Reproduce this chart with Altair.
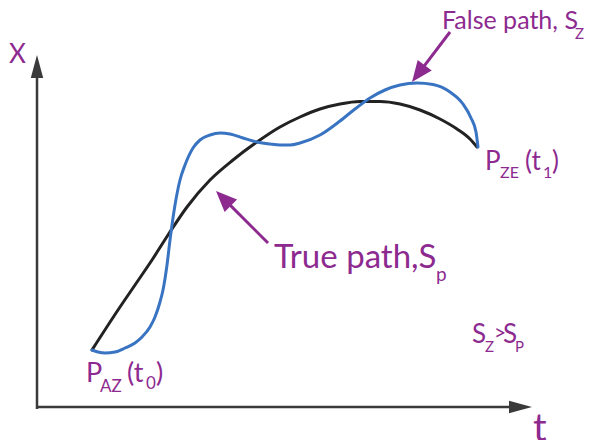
import altair as alt
import pandas as pd
import numpy as np

# ---- data (diagram coordinates: t to the right, x upward on a reversed pixel-like scale) ----
true_t = [92, 118, 135, 152, 168, 187, 210, 233, 257, 280, 300, 320, 340, 360, 380, 400, 420, 440, 457, 470, 477]
true_x = [350, 310, 285, 260, 235, 207, 180, 160, 142, 127, 117, 109, 104, 101.5, 101.5, 104, 110, 119, 129, 139, 147]

false_t = [92, 98, 105, 115, 125, 135, 142, 150, 155, 160, 163, 167, 170, 175, 180, 185, 193, 200, 210, 220, 230,
           243, 257, 270, 280, 290, 300, 320, 340, 355, 370, 385, 400, 417, 433, 450, 463, 471, 476, 478]
false_x = [350, 352, 353, 352, 348, 343, 337, 327, 317, 302, 290, 265, 240, 205, 180, 165, 148, 140, 135, 133, 134,
           138, 142, 144, 145, 145, 143, 135, 121, 109, 98, 90, 85, 83, 84.5, 92, 104, 118, 132, 147]

label_text = ["X", "False path, S", "Z", "True path,S", "p",
              "P", "ZE", "(t", "1", ")",
              "P", "AZ", "(t", "0", ")",
              "S", "Z", ">", "S", "P", "t"]

# annotation placement
label_t = [9, 442, 575, 274, 436,
           485, 500, 525, 543, 552,
           86, 100, 127, 146, 156,
           472, 485, 494, 503, 515, 533]
label_x = [63, 29, 39, 268, 281,
           170, 178, 170, 178, 170,
           382, 392, 382, 389, 382,
           343, 352, 340, 343, 352, 441]
label_size = [26, 25, 15, 33, 19,
              26, 16, 26, 16, 26,
              27, 17, 27, 17, 27,
              26, 15, 21, 26, 15, 38]

PURPLE = "#8D2A90"
BLUE = "#3874C2"
BLACK = "#222222"
AXIS = "#3a3a3a"

xs = alt.Scale(domain=[8, 585], nice=False, zero=False)
ys = alt.Scale(domain=[440, 8], nice=False, zero=False)

true_df = pd.DataFrame({"t": true_t, "x": true_x, "i": range(len(true_t))})
false_df = pd.DataFrame({"t": false_t, "x": false_x, "i": range(len(false_t))})
lab_df = pd.DataFrame({"t": label_t, "x": label_x, "s": label_size, "txt": label_text})

def line_layer(df, color, width):
    return alt.Chart(df).mark_line(color=color, strokeWidth=width, interpolate="monotone",
                                   strokeCap="round").encode(
        x=alt.X("t:Q", scale=xs, axis=None),
        y=alt.Y("x:Q", scale=ys, axis=None),
        order="i:Q")

# axes
axis_y = alt.Chart(pd.DataFrame({"t": [37], "x": [409], "t2": [37], "x2": [70]})).mark_rule(
    color=AXIS, strokeWidth=2.5).encode(
    x=alt.X("t:Q", scale=xs, axis=None), y=alt.Y("x:Q", scale=ys, axis=None), x2="t2:Q", y2="x2:Q")
axis_x = alt.Chart(pd.DataFrame({"t": [36], "x": [407], "t2": [517], "x2": [407]})).mark_rule(
    color=AXIS, strokeWidth=2.5).encode(
    x=alt.X("t:Q", scale=xs, axis=None), y=alt.Y("x:Q", scale=ys, axis=None), x2="t2:Q", y2="x2:Q")

AXIS_HEAD = "M0,0 L0.27,1 L-0.27,1 Z"
axis_heads = alt.Chart(pd.DataFrame({"t": [37, 532], "x": [55, 407], "a": [0, 90]})).mark_point(
    shape=AXIS_HEAD, filled=True, opacity=1, color=AXIS, size=(2 * 23) ** 2, strokeWidth=0).encode(
    x=alt.X("t:Q", scale=xs, axis=None), y=alt.Y("x:Q", scale=ys, axis=None),
    angle=alt.Angle("a:Q", scale=None))

# purple pointer arrows
starts = np.array([[450.0, 32.0], [268.0, 243.0]])
tips = np.array([[412.0, 82.0], [216.0, 191.0]])
d = tips - starts
n = d / np.linalg.norm(d, axis=1, keepdims=True)
ends = tips - n * 14
angles = (np.degrees(np.arctan2(n[:, 0], -n[:, 1])) + 360) % 360
ptr_df = pd.DataFrame({"t": starts[:, 0], "x": starts[:, 1], "t2": ends[:, 0], "x2": ends[:, 1]})
pointers = alt.Chart(ptr_df).mark_rule(color=PURPLE, strokeWidth=3).encode(
    x=alt.X("t:Q", scale=xs, axis=None), y=alt.Y("x:Q", scale=ys, axis=None), x2="t2:Q", y2="x2:Q")
PTR_HEAD = "M0,0 L0.42,1 L-0.42,1 Z"
ptr_heads = alt.Chart(pd.DataFrame({"t": tips[:, 0], "x": tips[:, 1], "a": angles})).mark_point(
    shape=PTR_HEAD, filled=True, opacity=1, color=PURPLE, size=(2 * 21) ** 2, strokeWidth=0).encode(
    x=alt.X("t:Q", scale=xs, axis=None), y=alt.Y("x:Q", scale=ys, axis=None),
    angle=alt.Angle("a:Q", scale=None))

labels = alt.Chart(lab_df).mark_text(align="left", baseline="alphabetic", font="Lato",
                                     color=PURPLE).encode(
    x=alt.X("t:Q", scale=xs, axis=None), y=alt.Y("x:Q", scale=ys, axis=None),
    text="txt:N", size=alt.Size("s:Q", scale=None))

chart = alt.layer(
    axis_y, axis_x, axis_heads,
    line_layer(true_df, BLACK, 3),
    line_layer(false_df, BLUE, 3),
    pointers, ptr_heads, labels,
).properties(width=577, height=432, padding=0, background="white",
             autosize=alt.AutoSizeParams(type="none")).configure_view(stroke=None)

chart.save("out.html", embed_options={"renderer": "svg", "actions": False})
